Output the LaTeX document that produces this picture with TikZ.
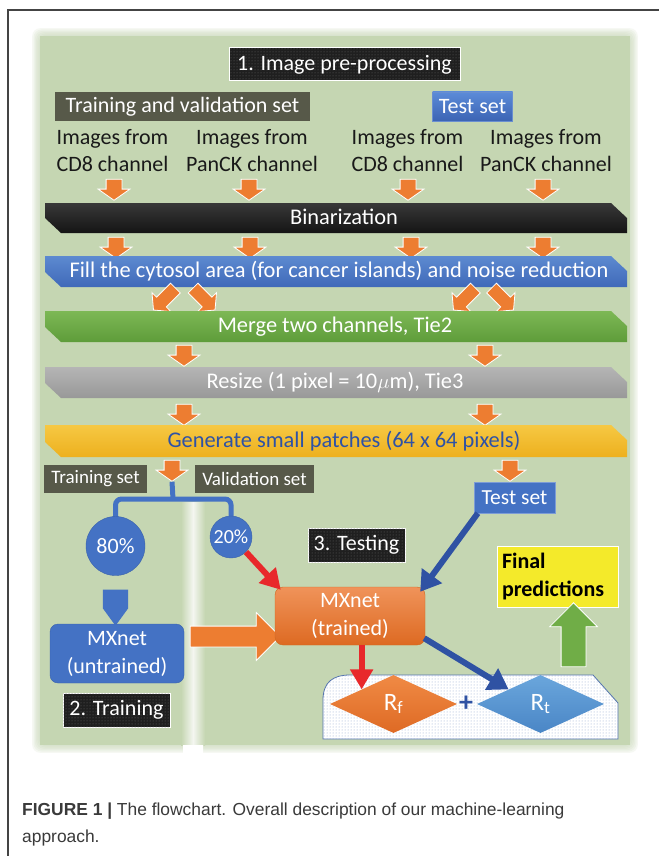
\documentclass[tikz,border=0pt]{standalone}
\usepackage{fontspec}
\setmainfont{Carlito}
\newfontfamily\capfont{Liberation Sans}
\usetikzlibrary{shapes.arrows,shapes.geometric,arrows.meta,patterns,calc}

\definecolor{pgreen}{HTML}{C5D6B2}
\definecolor{gapc}{HTML}{F4F6F0}
\definecolor{oarr}{HTML}{ED7D31}
\definecolor{tvgray}{HTML}{575949}
\definecolor{bblue}{HTML}{4472C4}
\definecolor{bbluedk}{HTML}{3A62AC}
\definecolor{ared}{HTML}{E8282B}
\definecolor{ablue}{HTML}{2F52A3}
\definecolor{gtxt}{HTML}{2E52A6}
\definecolor{fyel}{HTML}{F4EA2A}
\definecolor{garr}{HTML}{70AD47}
\definecolor{capgray}{HTML}{3A3A3A}
\definecolor{framec}{HTML}{444444}
\definecolor{dotblue}{HTML}{8FA6CF}
\definecolor{dotedge}{HTML}{5373AD}
\definecolor{tsA}{HTML}{5B8BD8}
\definecolor{tsB}{HTML}{3C64B4}
\definecolor{fillA}{HTML}{5D8AD0}
\definecolor{fillB}{HTML}{3F69B9}
\definecolor{mrgA}{HTML}{7DB855}
\definecolor{mrgB}{HTML}{5E9C3A}
\definecolor{rszA}{HTML}{B5B5B5}
\definecolor{rszB}{HTML}{989898}
\definecolor{genA}{HTML}{F6C843}
\definecolor{genB}{HTML}{EDB01E}
\definecolor{mxtA}{HTML}{F0935A}
\definecolor{mxtB}{HTML}{DD6A22}
\definecolor{mxtE}{HTML}{D0681F}
\definecolor{rfA}{HTML}{F08A45}
\definecolor{rfB}{HTML}{DE6A24}
\definecolor{rtA}{HTML}{6AA6DC}
\definecolor{rtB}{HTML}{4A86C6}

\newcommand\mkpanel[4]{%
 \foreach \k in {1,...,6}{\fill[pgreen,opacity=0.15,rounded corners=8pt] (#1-\k*1.3,#2-\k*1.3) rectangle (#3+\k*1.3,#4+\k*1.3);}
 \fill[pgreen] (#1,#2) rectangle (#3,#4);}
\newcommand\mkbar[4]{\shade[top color=#3,bottom color=#4] (45,#1) -- (611,#1) -- (627,#1+15) -- (627,#2) -- (61,#2) -- (45,#2-15) -- cycle;}
\newcommand\fs[2]{\fontsize{#1}{#2}\selectfont}
\newcommand\shaft[1]{\rule{0pt}{#1}}

\tikzset{
 lbl/.style={text=white, inner sep=0pt, font=\fs{22}{26}},
 bartxt/.style={text=white, inner sep=0pt, font=\fs{22.4}{24}},
 imgtxt/.style={text=black!90, inner sep=0pt, align=center, font=\fs{22}{27}},
 oarrow/.style={single arrow, fill=oarr, draw=white, line width=0.8pt, inner sep=0pt,
   minimum height=21pt, single arrow head extend=8pt, single arrow tip angle=110},
 darrow/.style={oarrow, minimum height=31pt, single arrow head extend=6.5pt, single arrow tip angle=100},
 titlebox/.style={fill=black!88, draw=white, line width=1pt, text=white, inner sep=0pt,
   postaction={pattern=dots, pattern color=white!40!black}, font=\fs{22}{26}},
 smallbox/.style={fill=tvgray, text=white, inner sep=0pt, minimum height=28pt, font=\fs{19}{22}},
 pctcircle/.style={circle, fill=bblue, draw=bbluedk, inner sep=0pt, text=white},
 redarr/.style={draw=ared, line width=6pt, -{Triangle[length=20pt,width=22pt]}},
 bluarr/.style={draw=ablue, line width=6pt, -{Triangle[length=20pt,width=24pt]}},
}

\begin{document}
\begin{tikzpicture}[x=1pt,y=-1pt]
\useasboundingbox (0,0) rectangle (659,856);
\fill[white] (0,0) rectangle (659,856);

% green background with the gap between the lower panels
\mkpanel{40}{36}{630}{745}
\shade[left color=pgreen, right color=pgreen, middle color=gapc] (181,502) rectangle (205,745);
\shade[left color=white, right color=white, middle color=white] (183,745.5) rectangle (203,756);

% frame
\draw[framec, line width=2pt] (8,856) -- (8,10) -- (659,10);

% header
\node[titlebox, minimum width=231pt, minimum height=33pt] (t1) at (344.5,64.5) {1. Image pre-processing};
\node[lbl, fill=tvgray, minimum width=255pt, minimum height=29pt] (tv) at (182.5,106.5) {Training and validation set};
\node[lbl, top color=tsA, bottom color=tsB, draw=bblue!80!white, minimum width=80pt, minimum height=29pt] (ts1) at (472.5,106.5) {Test set};

\node[imgtxt] (i1) at (112.5,150.5) {Images from\\CD8 channel};
\node[imgtxt] (i2) at (252,150.5) {Images from\\PanCK channel};
\node[imgtxt] (i3) at (407.5,150.5) {Images from\\CD8 channel};
\node[imgtxt] (i4) at (546,150.5) {Images from\\PanCK channel};

\node[oarrow, rotate=-90] (a11) at (114,187) {\shaft{15pt}};
\node[oarrow, rotate=-90] (a12) at (249,187) {\shaft{15pt}};
\node[oarrow, rotate=-90] (a13) at (408,187) {\shaft{15pt}};
\node[oarrow, rotate=-90] (a14) at (543,187) {\shaft{15pt}};

% bars
\mkbar{203}{233}{black!78}{black!92}
\node[bartxt] (bbin) at (344,217) {Binarization};

\node[oarrow, rotate=-90] (a21) at (116,245) {\shaft{15pt}};
\node[oarrow, rotate=-90] (a22) at (250,245) {\shaft{15pt}};
\node[oarrow, rotate=-90] (a23) at (411,245) {\shaft{15pt}};
\node[oarrow, rotate=-90] (a24) at (543,245) {\shaft{15pt}};

\mkbar{256}{287}{fillA}{fillB}
\node[bartxt] (bfill) at (339,271) {Fill the cytosol area (for cancer islands) and noise reduction};

\node[darrow, rotate=-135] (d1) at (166.5,297) {\shaft{13pt}};
\node[darrow, rotate=-45] (d2) at (202,297) {\shaft{13pt}};
\node[darrow, rotate=-135] (d3) at (466.5,297) {\shaft{13pt}};
\node[darrow, rotate=-45] (d4) at (500.5,297) {\shaft{13pt}};

\mkbar{311}{342}{mrgA}{mrgB}
\node[bartxt] (bmerge) at (335,327) {Merge two channels, Tie2};

\node[oarrow, rotate=-90] (a31) at (184,353) {\shaft{15pt}};
\node[oarrow, rotate=-90] (a32) at (485,353) {\shaft{15pt}};

\mkbar{367}{398}{rszA}{rszB}
\node[bartxt] (bresize) at (335,382) {Resize (1 pixel = 10$\mu$m), Tie3};

\node[oarrow, rotate=-90] (a41) at (184,412) {\shaft{15pt}};
\node[oarrow, rotate=-90] (a42) at (485,412) {\shaft{15pt}};

\mkbar{425}{457}{genA}{genB}
\node[bartxt, text=gtxt] (bgen) at (344,441) {Generate small patches (64 x 64 pixels)};

\node[oarrow, rotate=-90] (a51) at (172,468) {\shaft{15pt}};
\node[oarrow, rotate=-90] (a52) at (510,468) {\shaft{15pt}};

% split
\node[smallbox, minimum width=103pt] (trs) at (95.5,479) {Training set};
\node[smallbox, minimum width=119pt] (vas) at (254.5,479) {Validation set};
\node[lbl, fill=bblue, draw=bblue!70!white, minimum width=81pt, minimum height=31pt, font=\fs{21.5}{26}] (ts2) at (514.5,497.5) {Test set};

\coordinate (bm) at (173,499);
\coordinate (c80p) at (115.5,546);
\coordinate (c20p) at (231,537);
\draw[bblue, line width=5pt, rounded corners=6pt] (c80p) |- (bm) -| (c20p);
\draw[bblue, line width=5pt] (a51.tip) -- (bm);
\node[pctcircle, minimum size=59pt, font=\fs{22}{24}] (c80) at (c80p) {80\%};
\node[pctcircle, minimum size=42pt, font=\fs{20}{22}] (c20) at (c20p) {20\%};

% training
\node[single arrow, single arrow head extend=0pt, single arrow tip angle=72, rotate=-90, fill=bblue, inner sep=0pt, minimum height=36pt] (pa) at (115.5,599) {\shaft{25pt}};
\node[rounded corners=8pt, fill=bblue, draw=bbluedk, text=white, align=center, font=\fs{22}{28}, minimum width=134pt, minimum height=59pt, inner sep=0pt] (mxu) at (117,653.5) {MXnet\\(untrained)};
\node[titlebox, minimum width=107pt, minimum height=34pt] (t2) at (116.5,710) {2. Training};

\node[single arrow, fill=oarr, draw=white, line width=0.8pt, inner sep=0pt, minimum height=90pt, single arrow head extend=13.5pt] (big) at (230,636.5) {\shaft{20pt}};

% testing
\node[titlebox, minimum width=97pt, minimum height=34pt] (t3) at (356.5,545) {3. Testing};
\node[rounded corners=8pt, top color=mxtA, bottom color=mxtB, draw=mxtE, text=white, align=center, font=\fs{22}{28}, minimum width=150pt, minimum height=58pt, inner sep=0pt] (mxt) at (350,616) {MXnet\\(trained)};

\node[fill=fyel, draw=white, line width=1pt, font=\bfseries\fs{22}{28}, align=left, text width=111pt, inner xsep=5pt, minimum width=121pt, minimum height=61pt] (fp) at (557.5,576.5) {Final\\predictions};
\node[single arrow, rotate=90, fill=garr, draw=white, line width=0.8pt, inner sep=0pt, minimum height=64pt, single arrow head extend=11.5pt] (ga) at (573.5,641) {\shaft{24pt}};

\draw[draw=dotedge, line width=0.8pt, fill=white, postaction={pattern=dots, pattern color=dotblue}]
  (323,739) -- (323,700) .. controls (323,682) and (333,675) .. (350,675) -- (593,675) -- (618,703) -- (618,739) -- cycle;

\node[diamond, top color=rfA, bottom color=rfB, minimum width=127pt, minimum height=58pt, inner sep=0pt, text=white, font=\fs{25}{25}] (rf) at (393.5,704) {R\textsubscript{f}};
\node[diamond, top color=rtA, bottom color=rtB, minimum width=127pt, minimum height=58pt, inner sep=0pt, text=white, font=\fs{25}{25}] (rt) at (540.5,704) {R\textsubscript{t}};
\node[text=ablue, font=\bfseries\fs{28}{28}, inner sep=0pt] (pl) at (466,704) {+};

% connectors
\draw[redarr] (c20.south east) -- ([shift={(6,3)}]mxt.north west);
\draw[bluarr] ([xshift=4pt]ts2.south west) -- ([shift={(-5,5)}]mxt.north east);
\draw[redarr] (mxt.south -| rf.north west) -- (rf.north west);
\draw[bluarr] ([shift={(-1,-7)}]mxt.south east) -- (rt.north west);

% caption
\node[anchor=base west, inner sep=0pt, text=capgray, font=\capfont\fs{17.4}{20}] (cap1) at (22,815) {\textbf{FIGURE 1 |} The flowchart. Overall description of our machine-learning};
\node[anchor=base west, inner sep=0pt, text=capgray, font=\capfont\fs{17.4}{20}] (cap2) at (22,842) {approach.};
\end{tikzpicture}
\end{document}
